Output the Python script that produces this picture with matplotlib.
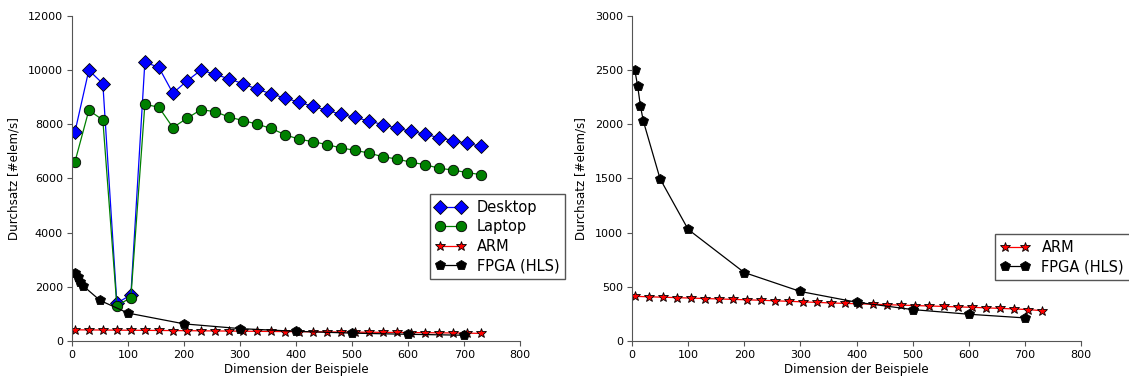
import matplotlib
matplotlib.use("Agg")
import matplotlib.pyplot as plt

# x positions of the CPU measurements (every 25 elements)
dims = list(range(5, 731, 25))

desktop = [7700, 10000, 9500, 1400, 1700, 10300, 10100, 9150, 9600, 10000,
           9850, 9680, 9500, 9300, 9130, 8970, 8820, 8660, 8520, 8370,
           8260, 8120, 7990, 7850, 7750, 7630, 7510, 7400, 7300, 7190]
laptop = [6600, 8520, 8160, 1300, 1600, 8740, 8630, 7880, 8220, 8540,
          8470, 8270, 8140, 8010, 7850, 7620, 7450, 7360, 7250, 7130,
          7040, 6940, 6800, 6720, 6600, 6510, 6380, 6310, 6220, 6140]
arm = [412, 408, 404, 400, 396, 392, 388, 384, 380, 376,
       371, 366, 361, 356, 351, 347, 343, 339, 335, 331,
       327, 323, 319, 315, 311, 306, 301, 296, 290, 280]

fpga_dims = [5, 10, 15, 20, 50, 100, 200, 300, 400, 500, 600, 700]
fpga = [2500, 2355, 2170, 2033, 1497, 1030, 632, 457, 358, 290, 247, 213]


def style_axes(ax, ymax, ystep):
	ax.set_xlim(0, 800)
	ax.set_ylim(0, ymax)
	ax.set_xticks(range(0, 801, 100))
	ax.set_yticks(range(0, ymax + 1, ystep))
	for side in ("top", "right"):
		ax.spines[side].set_visible(False)
	for side in ("left", "bottom"):
		ax.spines[side].set_color("#555555")
	ax.tick_params(labelsize=8, color="#555555", length=3.5, pad=3, direction="out")
	ax.set_xlabel("Dimension der Beispiele", fontsize=8.6, labelpad=2)
	ax.set_ylabel("Durchsatz [#elem/s]", fontsize=8.6, labelpad=5)


def main():
	fig = plt.figure(figsize=(11.29, 3.79), dpi=100)
	ax1 = fig.add_axes([0.0638, 0.1003, 0.397, 0.8575])
	ax2 = fig.add_axes([0.5598, 0.1003, 0.3977, 0.8575])

	##############
	ax1.plot(dims, desktop, color="blue", lw=0.9, marker="D", markersize=7,
			 markerfacecolor="blue", markeredgecolor="black", markeredgewidth=0.6, label="Desktop")
	ax1.plot(dims, laptop, color="green", lw=0.9, marker="o", markersize=7.5,
			 markerfacecolor="green", markeredgecolor="black", markeredgewidth=0.6, label="Laptop")
	ax1.plot(dims, arm, color="red", lw=0.9, marker="*", markersize=7,
			 markerfacecolor="red", markeredgecolor="black", markeredgewidth=0.6, label="ARM")
	ax1.plot(fpga_dims, fpga, color="black", lw=0.9, marker="p", markersize=7,
			 markerfacecolor="black", markeredgecolor="black", markeredgewidth=0.6, label="FPGA (HLS)")
	style_axes(ax1, 12000, 2000)
	leg1 = ax1.legend(loc="upper left", bbox_to_anchor=(0.799, 0.452), borderaxespad=0,
					  numpoints=2, fontsize=10.5, fancybox=False, framealpha=1,
					  handlelength=2, labelspacing=0.3)
	leg1.get_frame().set_edgecolor("#555555")

	##############
	ax2.plot(dims, arm, color="red", lw=0.9, marker="*", markersize=7,
			 markerfacecolor="red", markeredgecolor="black", markeredgewidth=0.6, label="ARM")
	ax2.plot(fpga_dims, fpga, color="black", lw=0.9, marker="p", markersize=7,
			 markerfacecolor="black", markeredgecolor="black", markeredgewidth=0.6, label="FPGA (HLS)")
	style_axes(ax2, 3000, 500)
	leg2 = ax2.legend(loc="upper left", bbox_to_anchor=(0.808, 0.329), borderaxespad=0,
					  numpoints=2, fontsize=10.5, fancybox=False, framealpha=1,
					  handlelength=2, labelspacing=0.3)
	leg2.get_frame().set_edgecolor("#555555")
	##############

	fig.savefig("out.png", dpi=100)


if __name__ == '__main__':
	main()
